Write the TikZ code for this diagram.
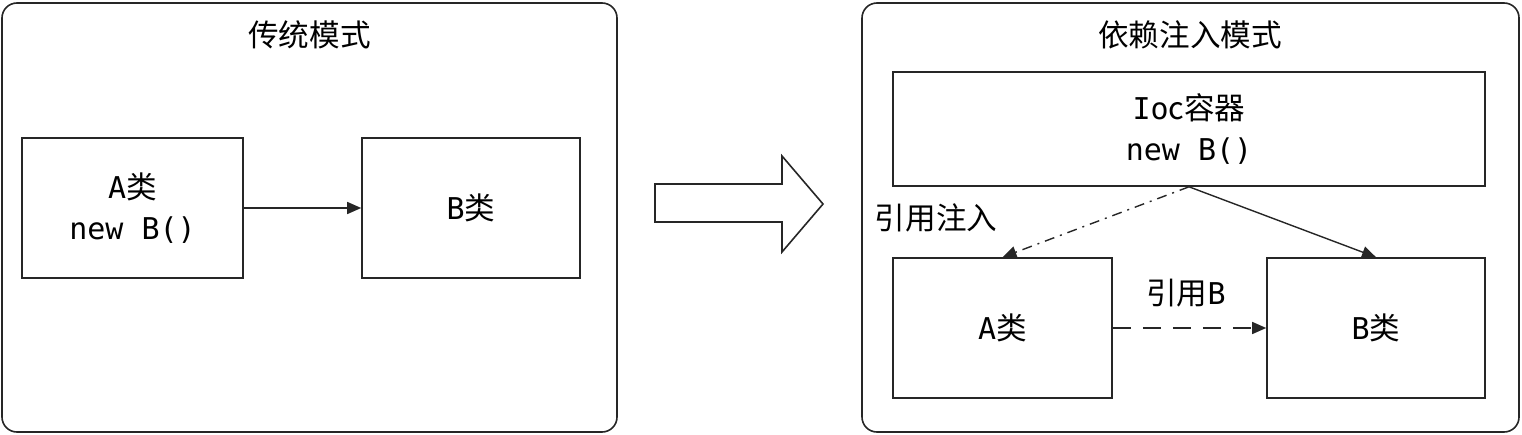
\documentclass[tikz,border=0pt]{standalone}
\usepackage{fontspec}
\setmainfont{DejaVu Sans Mono}
\newfontfamily\cjk[Scale=1.02]{Noto Sans CJK SC}
\usetikzlibrary{arrows.meta}
\definecolor{lineC}{HTML}{262626}

\begin{document}
\begin{tikzpicture}[x=1pt, y=-1pt, font=\fontsize{30}{41}\selectfont,
	panel/.style={shape=rectangle, draw=lineC, line width=1.6pt, rounded corners=15pt},
	cls/.style={shape=rectangle, draw=lineC, line width=1.6pt, align=center, inner sep=0pt},
	link/.style={draw=lineC, line width=1.4pt, -{Triangle[length=14pt, width=12pt]}}]
	% Panels, nodes and links:
	\useasboundingbox (0, 0) rectangle (1522, 434);
	\node[panel, minimum width=615pt, minimum height=429pt](PanelL) at (309.5, 217.5){};
	\node(TitleL) at (309.5, 35){\cjk 传统模式};
	\node[cls, minimum width=221pt, minimum height=140pt](ClassA1) at (132.5, 208){A{\cjk 类}\\new B()};
	\node[cls, minimum width=218pt, minimum height=140pt](ClassB1) at (471, 208){B{\cjk 类}};
	\draw[link] (ClassA1.east) -- (ClassB1.west);
	\draw[draw=lineC, line width=1.6pt] (655, 184) -- (782, 184) -- (782, 156) -- (823, 204) -- (782, 252) -- (782, 222) -- (655, 222) -- cycle;
	\node[panel, minimum width=657pt, minimum height=429pt](PanelR) at (1190.5, 217.5){};
	\node(TitleR) at (1190, 35){\cjk 依赖注入模式};
	\node[cls, minimum width=592pt, minimum height=114pt](Ioc) at (1189, 129){Io{\cjk c容器}\\new B()};
	\node[cls, minimum width=219pt, minimum height=140pt](ClassA2) at (1002.5, 328){A{\cjk 类}};
	\node[cls, minimum width=218pt, minimum height=140pt](ClassB2) at (1376, 328){B{\cjk 类}};
	\draw[link, dash pattern={on 10pt off 6pt on 2pt off 6pt}] (Ioc.south) -- (ClassA2.north);
	\draw[link] (Ioc.south) -- (ClassB2.north);
	\draw[link, dash pattern={on 18pt off 12pt}] (ClassA2.east) -- (ClassB2.west);
	\node(LblInject) at (936, 218){\cjk 引用注入};
	\node(LblRef) at (1186, 293){{\cjk 引用}B};
\end{tikzpicture}
\end{document}
